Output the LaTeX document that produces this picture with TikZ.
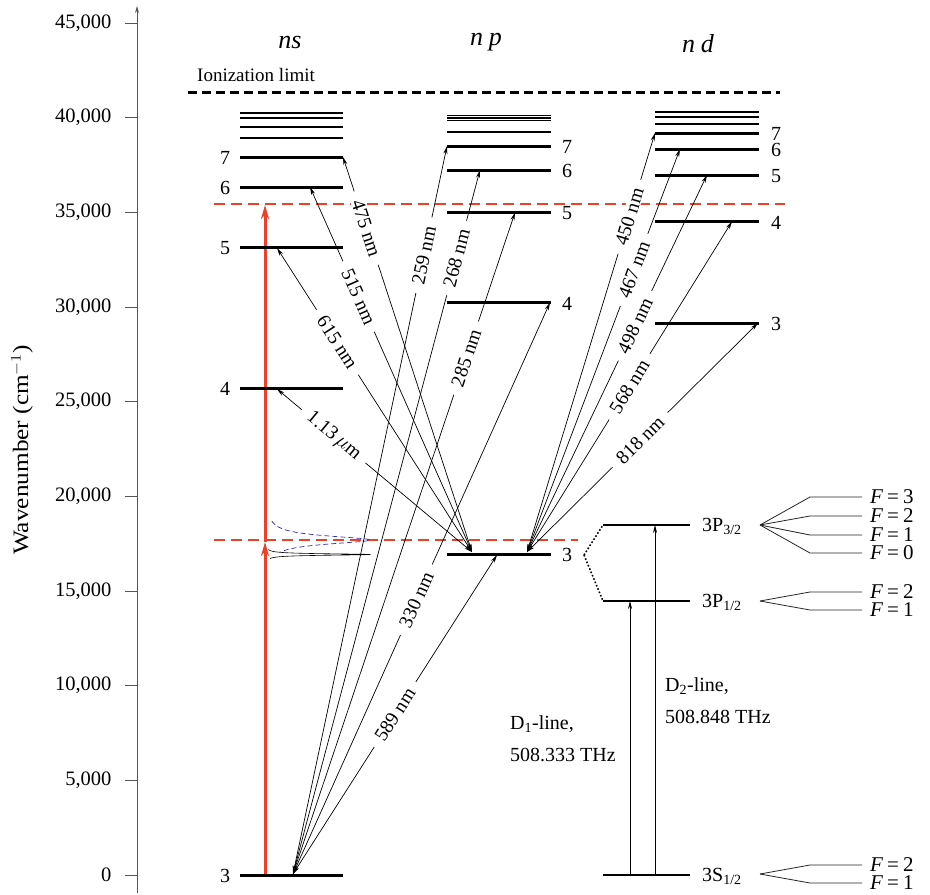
\documentclass[tikz,border=0pt]{standalone}
\usepackage{fontspec}
\setmainfont{Liberation Serif}
\usetikzlibrary{arrows.meta}
\definecolor{lred}{RGB}{236,64,40}
\definecolor{lblue}{RGB}{50,40,190}
\definecolor{axgray}{RGB}{85,85,85}
\newcommand\fsz[1]{\fontsize{#1}{#1}\selectfont}
\begin{document}
\begin{tikzpicture}[x=1pt,y=-1pt,
  lev/.style={line width=3pt},
  ulev/.style={line width=1.8pt},
  fslev/.style={line width=2.4pt},
  trans/.style={{Stealth[length=8pt,width=4pt]}-{Stealth[length=8pt,width=4pt]}, line width=0.7pt},
  up/.style={-{Stealth[length=8pt,width=4pt]}, line width=0.7pt},
  wl/.style={sloped, fill=white, inner xsep=9pt, inner ysep=0.5pt, font=\fsz{19.5}},
  num/.style={font=\fsz{20}},
  ticklab/.style={font=\fsz{20.5}, anchor=east},
  hf/.style={line width=0.8pt, draw=black!85},
  flab/.style={font=\fsz{21}, anchor=west, inner sep=0pt},
  txt/.style={font=\fsz{20}, anchor=west, inner sep=0pt},
  hdr/.style={font=\fsz{26}\itshape},
  reddash/.style={lred, line width=1.5pt, dash pattern=on 11pt off 6pt},
  redarr/.style={lred, line width=3pt, -{Stealth[length=14pt,width=8pt]}},
]
\useasboundingbox (0,0) rectangle (930,895);

% ---- axis ----
\coordinate (ax0) at (137,893);
\coordinate (ax1) at (137,6);
\draw[axgray, line width=0.8pt, -{Stealth[length=7pt,width=4pt]}] (ax0) -- (ax1);
\foreach \v/\t [count=\i] in {0/0,5/{5,000},10/{10,000},15/{15,000},20/{20,000},25/{25,000},30/{30,000},35/{35,000},40/{40,000},45/{45,000}}{
  \pgfmathsetmacro\yy{875-\v*18.933}
  \draw[axgray, line width=0.8pt] (125,\yy) -- (137,\yy);
  \node[ticklab] (tk\i) at (115,\yy) {\t};
}
\node[rotate=90, font=\fsz{22}] (axlab) at (22,450) {\scalebox{1.15}[1]{Wavenumber (cm$^{-1}$)}};

% ---- headers ----
\node[hdr] (hs) at (290,42) {ns};
\node[hdr] (hp) at (486,42) {n\kern6pt p};
\node[hdr] (hd) at (698,44) {n\kern6pt d};

% ---- ionization limit ----
\node[txt, font=\fsz{19}] (ion) at (197,75) {Ionization limit};
\draw[line width=3pt, dash pattern=on 9pt off 5pt] (188,92) coordinate (ionA) -- (780,92) coordinate (ionB);

% ---- red dashed lines ----
\draw[reddash] (214,204) coordinate (rdA) -- (785,204) coordinate (rdB);
\draw[reddash] (214,540) coordinate (rdC) -- (578,540) coordinate (rdD);

% ---- line profiles ----
\draw[lblue, line width=0.7pt, dash pattern=on 5pt off 3pt] plot[domain=-19:12, samples=120] ({265+105/(1+(\x/5)^2)},{540+\x});
\draw[line width=0.6pt] plot[domain=-5:4, samples=200] ({265+105/(1+(\x/0.9)^2)},{554.5+\x});

% ---- red excitation arrows ----
\coordinate (r0) at (265,875);
\coordinate (r1) at (265,542);
\coordinate (r2) at (265,205);
\draw[redarr] (r0) -- (r1);
\draw[redarr] (r1) -- (r2);

% ---- transition hubs and targets ----
\coordinate (hubS) at (293,874);
\coordinate (hubP) at (472,552);
\coordinate (hubD) at (527,552);
\coordinate (t7s) at (343,157);
\coordinate (t6s) at (310,187);
\coordinate (t5s) at (277,248);
\coordinate (t4s) at (277,389);
\coordinate (t7p) at (447,146);
\coordinate (t6p) at (480,170);
\coordinate (t5p) at (515,212.5);
\coordinate (t4p) at (550,302.5);
\coordinate (t3p) at (497,555);
\coordinate (t7d) at (655,133);
\coordinate (t6d) at (680,149);
\coordinate (t5d) at (707,175);
\coordinate (t4d) at (732,221.5);
\coordinate (t3d) at (758,323);

% ns <-> 3p
\draw[trans] (hubP) -- node[wl,pos=0.82]{475 nm} (t7s);
\draw[trans] (hubP) -- node[wl,pos=0.70]{515 nm} (t6s);
\draw[trans] (hubP) -- node[wl,pos=0.69]{615 nm} (t5s);
\draw[trans] (hubP) -- node[wl,pos=0.71]{1.13\,$\mu$m} (t4s);
% 3s <-> np
\draw[trans] (hubS) -- node[wl,pos=0.85]{259 nm} (t7p);
\draw[trans] (hubS) -- node[wl,pos=0.875]{268 nm} (t6p);
\draw[trans] (hubS) -- node[wl,pos=0.78]{285 nm} (t5p);
\draw[trans] (hubS) -- node[wl,pos=0.48]{330 nm} (t4p);
\draw[trans] (hubS) -- node[wl,pos=0.50]{589 nm} (t3p);
% 3p <-> nd
\draw[trans] (hubD) -- node[wl,pos=0.80]{450 nm} (t7d);
\draw[trans] (hubD) -- node[wl,pos=0.70]{467 nm} (t6d);
\draw[trans] (hubD) -- node[wl,pos=0.60]{498 nm} (t5d);
\draw[trans] (hubD) -- node[wl,pos=0.50]{568 nm} (t4d);
\draw[trans] (hubD) -- node[wl,pos=0.49]{818 nm} (t3d);

% ---- ns levels ----
\foreach \yy/\lb in {875/3,388/4,247/5,187/6,157/7}{
  \draw[lev] (240,\yy) -- (343,\yy);
  \node[num] (ns\lb) at (225,\yy+1) {\lb};
}
\foreach \yy in {138.3,126.7,118.3,113.3}{
  \draw[ulev] (240,\yy) -- (343,\yy);
}
% ---- np levels ----
\foreach \yy/\lb in {554/3,302.5/4,212.5/5,170/6,146/7}{
  \draw[lev] (447,\yy) -- (551,\yy);
  \node[num] (np\lb) at (567,\yy+1) {\lb};
}
\foreach \yy in {132,120.5,118,115.5}{
  \draw[ulev] (447,\yy) -- (551,\yy);
}
% ---- nd levels ----
\foreach \yy/\lb in {323/3,221.5/4,175/5,149/6,133/7}{
  \draw[lev] (655,\yy) -- (759,\yy);
  \node[num] (nd\lb) at (776,\yy+1) {\lb};
}
\foreach \yy in {123.7,116.7,112}{
  \draw[ulev] (655,\yy) -- (759,\yy);
}

% ---- fine structure ----
\coordinate (fsA) at (584,555);
\draw[fslev] (603,525) coordinate (p32a) -- (690,525) coordinate (p32b);
\draw[fslev] (603,601) coordinate (p12a) -- (690,601) coordinate (p12b);
\draw[fslev] (603,875) coordinate (s12a) -- (690,875) coordinate (s12b);
\draw[dotted, line width=1.6pt] (fsA) -- (p32a);
\draw[dotted, line width=1.6pt] (fsA) -- (p12a);
\node[txt] (L32) at (702,526) {3P\textsubscript{3/2}};
\node[txt] (L12) at (702,602) {3P\textsubscript{1/2}};
\node[txt] (L0) at (702,876) {3S\textsubscript{1/2}};

\coordinate (d1a) at (630,875);
\coordinate (d1b) at (630,601);
\coordinate (d2a) at (655,875);
\coordinate (d2b) at (655,525);
\draw[up] (d1a) -- (d1b);
\draw[up] (d2a) -- (d2b);
\node[txt] (D1a) at (510,724) {D\textsubscript{1}-line,};
\node[txt] (D1b) at (510,755) {508.333 THz};
\node[txt] (D2a) at (665,686) {D\textsubscript{2}-line,};
\node[txt] (D2b) at (665,717) {508.848 THz};

% ---- hyperfine ----
\coordinate (hA) at (760,525);
\foreach \yy/\f in {497/3,516/2,535/1,553/0}{
  \draw[hf] (hA) -- (810,\yy) -- (862,\yy);
  \node[flab] at (870,\yy) {\textit{F}\kern4pt=\kern4pt\f};
}
\coordinate (hB) at (760,601);
\foreach \yy/\f in {592/2,610/1}{
  \draw[hf] (hB) -- (810,\yy) -- (862,\yy);
  \node[flab] at (870,\yy) {\textit{F}\kern4pt=\kern4pt\f};
}
\coordinate (hC) at (760,874);
\foreach \yy/\f in {865/2,883/1}{
  \draw[hf] (hC) -- (810,\yy) -- (862,\yy);
  \node[flab] at (870,\yy) {\textit{F}\kern4pt=\kern4pt\f};
}
\end{tikzpicture}
\end{document}
